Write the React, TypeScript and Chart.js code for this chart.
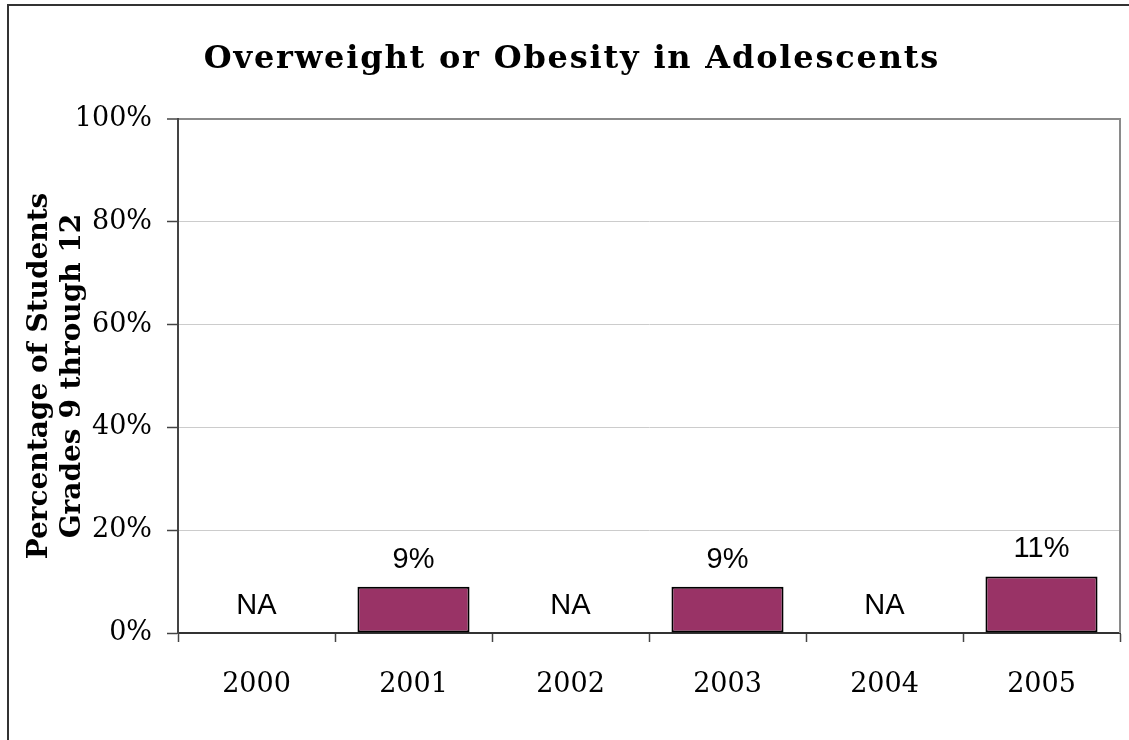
import React, { useEffect, useRef } from "react";
import { Chart, registerables } from "chart.js";

Chart.register(...registerables);

const years: string[] = ["2000", "2001", "2002", "2003", "2004", "2005"];
const percentages: (number | null)[] = [null, 9, null, 9, null, 11];
const yTicks: number[] = [0, 20, 40, 60, 80, 100];

const chartTitle = "Overweight or Obesity in Adolescents";
const yTitleLines: string[] = ["Percentage of Students", "Grades 9 through 12"];
const missingLabel = "NA";

const W = 1129;
const H = 740;

const decorations = {
  id: "decorations",
  afterDraw(chart: any) {
    const { ctx, chartArea, scales } = chart;
    const xs = scales.x;
    const ys = scales.y;
    ctx.save();

    // outer frame (left and top edges)
    ctx.strokeStyle = "#333";
    ctx.lineWidth = 2;
    ctx.beginPath();
    ctx.moveTo(8, H + 5);
    ctx.lineTo(8, 5);
    ctx.lineTo(W + 5, 5);
    ctx.stroke();

    // right edge of plot area
    ctx.strokeStyle = "#8a8a8a";
    ctx.lineWidth = 2;
    ctx.beginPath();
    ctx.moveTo(chartArea.right, chartArea.top - 1);
    ctx.lineTo(chartArea.right, chartArea.bottom);
    ctx.stroke();

    // title
    ctx.fillStyle = "#000";
    ctx.font = "bold 32px 'DejaVu Serif'";
    ctx.textAlign = "center";
    ctx.textBaseline = "alphabetic";
    (ctx as any).letterSpacing = "1.8px";
    ctx.fillText(chartTitle, 572, 68);
    (ctx as any).letterSpacing = "0px";

    // y axis title, two rotated lines
    ctx.font = "bold 28px 'DejaVu Serif'";
    const cy = (chartArea.top + chartArea.bottom) / 2;
    const baselines = [47, 80];
    yTitleLines.forEach((line, i) => {
      ctx.save();
      ctx.translate(baselines[i], cy);
      ctx.rotate(-Math.PI / 2);
      ctx.fillText(line, 0, 0);
      ctx.restore();
    });

    // value labels
    ctx.font = "29px 'Liberation Sans'";
    ctx.fillStyle = "#000";
    percentages.forEach((v, i) => {
      const x = xs.getPixelForValue(i);
      const top = ys.getPixelForValue(v == null ? 0 : v);
      const text = v == null ? missingLabel : `${v}%`;
      ctx.fillText(text, x, top - 19);
    });

    ctx.restore();
  },
};

export default function App() {
  const canvasRef = useRef<HTMLCanvasElement | null>(null);

  useEffect(() => {
    const canvas = canvasRef.current;
    if (!canvas) return;
    const chart = new Chart(canvas, {
      type: "bar",
      data: {
        labels: years,
        datasets: [
          {
            data: percentages as any,
            backgroundColor: "#993366",
            borderColor: "#000",
            borderWidth: 2,
            borderSkipped: false,
            barPercentage: 0.714,
            categoryPercentage: 1,
          },
        ],
      },
      options: {
        responsive: false,
        animation: false,
        layout: { padding: { top: 119, right: 9, bottom: 0, left: 0 } },
        plugins: {
          legend: { display: false },
          title: { display: false },
          tooltip: { enabled: false },
        },
        scales: {
          x: {
            afterFit(scale: any) {
              scale.height = 107;
            },
            grid: {
              offset: true,
              drawOnChartArea: false,
              drawTicks: true,
              tickLength: 9,
              tickColor: "#444",
              tickWidth: 1.5,
            },
            border: { display: true, color: "#333", width: 2 },
            ticks: {
              color: "#000",
              padding: 27,
              font: { family: "'DejaVu Serif'", size: 27 },
            },
          },
          y: {
            min: 0,
            max: 100,
            afterFit(scale: any) {
              scale.width = 178;
            },
            afterBuildTicks(scale: any) {
              scale.ticks = yTicks.map((v) => ({ value: v }));
            },
            grid: {
              color: (c: any) =>
                c.tick && c.tick.value === 100 ? "#8a8a8a" : "#cccccc",
              lineWidth: (c: any) => (c.tick && c.tick.value === 100 ? 2 : 1),
              drawTicks: true,
              tickLength: 11,
              tickColor: "#444",
              tickWidth: 1.5,
            },
            border: { display: true, color: "#444", width: 2 },
            ticks: {
              color: "#000",
              padding: 15,
              font: { family: "'DejaVu Serif'", size: 27 },
              callback: (v: any) => `${v}%`,
            },
          },
        },
      },
      plugins: [decorations],
    });
    return () => chart.destroy();
  }, []);

  return (
    <div
      style={{
        position: "absolute",
        left: 0,
        top: 0,
        width: W,
        height: H,
        background: "#fff",
        overflow: "hidden",
      }}
    >
      <canvas ref={canvasRef} width={W} height={H} />
    </div>
  );
}
